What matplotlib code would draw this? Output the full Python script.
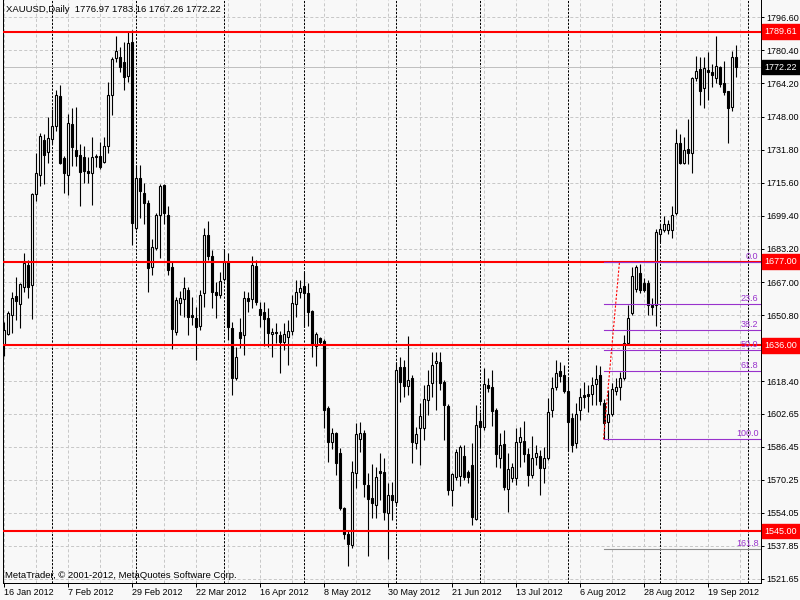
import matplotlib.pyplot as plt
from matplotlib.patches import Rectangle

plt.rcParams['font.family'] = ['Liberation Sans', 'DejaVu Sans']

# XAUUSD daily bars, 16 Jan 2012 .. 28 Sep 2012
opens = [
    1636.4, 1641.7, 1651.0, 1660.4, 1656.4, 1664.8, 1675.5, 1665.7, 1710.3, 1719.2,
    1736.3, 1730.9, 1736.8, 1743.2, 1758.3, 1727.5, 1719.2, 1744.6, 1731.4, 1729.0,
    1728.0, 1721.6, 1720.6, 1728.0, 1728.5, 1726.0, 1733.4, 1758.8, 1776.5, 1777.0,
    1774.5, 1767.7, 1784.3, 1693.7, 1717.7, 1710.8, 1705.9, 1674.6, 1683.9, 1699.6,
    1714.3, 1700.0, 1674.6, 1642.7, 1656.9, 1658.9, 1663.3, 1651.0, 1649.6, 1645.6,
    1661.8, 1689.8, 1679.9, 1662.3, 1660.8, 1668.7, 1677.0, 1644.7, 1620.2, 1642.7,
    1641.2, 1659.4, 1658.9, 1675.0, 1654.0, 1652.5, 1649.6, 1641.7, 1642.7, 1641.2,
    1637.8, 1640.3, 1643.2, 1656.4, 1662.3, 1665.3, 1661.8, 1653.0, 1635.9, 1639.8,
    1638.3, 1605.5, 1588.8, 1593.2, 1583.4, 1556.4, 1543.7, 1538.3, 1573.6, 1590.3,
    1593.2, 1567.7, 1561.4, 1557.9, 1574.6, 1574.1, 1554.0, 1562.8, 1559.4, 1625.6,
    1625.6, 1616.3, 1620.2, 1588.3, 1595.7, 1595.7, 1609.4, 1617.7, 1627.5, 1628.0,
    1618.2, 1606.4, 1565.3, 1571.6, 1572.1, 1581.9, 1574.1, 1577.5, 1551.1, 1599.1,
    1596.2, 1616.7, 1615.8, 1604.5, 1580.9, 1587.8, 1565.8, 1571.1, 1571.1, 1588.8,
    1589.3, 1582.9, 1572.6, 1581.4, 1581.9, 1576.0, 1580.9, 1604.5, 1615.8, 1623.6,
    1621.6, 1613.8, 1600.6, 1588.3, 1604.5, 1611.8, 1612.3, 1612.3, 1617.2, 1621.6,
    1607.9, 1598.6, 1602.5, 1613.8, 1615.8, 1620.2, 1637.3, 1652.0, 1663.8, 1671.6,
    1666.7, 1666.7, 1655.9, 1655.9, 1690.3, 1692.7, 1692.7, 1692.7, 1701.0, 1735.3,
    1725.5, 1731.9, 1730.4, 1766.7, 1771.1, 1761.8, 1770.6, 1769.6, 1766.7, 1772.1,
    1764.3, 1760.3, 1752.5, 1776.97,
]
highs = [
    1647.6, 1653.0, 1662.3, 1669.7, 1666.7, 1681.4, 1678.0, 1710.8, 1730.4, 1740.2,
    1739.7, 1747.6, 1751.5, 1760.8, 1763.3, 1728.5, 1749.5, 1752.0, 1752.5, 1734.4,
    1733.4, 1728.0, 1737.8, 1729.5, 1735.8, 1737.8, 1764.7, 1777.0, 1787.3, 1781.9,
    1784.3, 1789.7, 1790.2, 1724.1, 1724.1, 1715.7, 1707.4, 1688.3, 1701.0, 1714.8,
    1714.8, 1704.0, 1677.0, 1659.9, 1662.8, 1669.7, 1664.8, 1659.9, 1655.0, 1663.3,
    1693.7, 1697.1, 1682.9, 1667.2, 1672.1, 1683.4, 1681.4, 1647.6, 1635.4, 1649.6,
    1662.8, 1662.3, 1679.9, 1678.0, 1657.4, 1657.4, 1654.5, 1644.7, 1647.1, 1643.2,
    1647.1, 1648.6, 1660.8, 1668.2, 1668.2, 1672.1, 1666.7, 1653.5, 1642.7, 1640.3,
    1639.3, 1606.4, 1595.7, 1593.7, 1585.9, 1556.9, 1545.7, 1579.5, 1598.1, 1598.6,
    1594.7, 1573.6, 1578.0, 1576.5, 1583.4, 1581.0, 1568.7, 1569.2, 1628.0, 1630.5,
    1629.0, 1640.8, 1621.6, 1596.2, 1607.9, 1616.7, 1624.1, 1632.9, 1632.9, 1632.9,
    1619.2, 1607.4, 1573.6, 1585.4, 1587.3, 1587.3, 1575.1, 1588.3, 1606.9, 1603.5,
    1625.1, 1620.2, 1624.1, 1605.5, 1593.2, 1594.7, 1583.4, 1578.5, 1595.7, 1596.2,
    1599.1, 1585.9, 1591.7, 1587.3, 1584.9, 1586.3, 1610.4, 1620.6, 1629.0, 1628.0,
    1626.5, 1620.6, 1603.0, 1607.9, 1615.3, 1618.2, 1616.7, 1620.6, 1626.5, 1626.0,
    1609.9, 1614.3, 1617.7, 1620.2, 1623.1, 1641.2, 1655.9, 1674.6, 1675.5, 1676.0,
    1669.2, 1668.2, 1659.4, 1693.2, 1695.2, 1699.1, 1697.6, 1704.0, 1741.7, 1739.3,
    1737.8, 1746.6, 1767.2, 1777.5, 1777.0, 1777.0, 1779.4, 1773.6, 1787.3, 1772.6,
    1775.0, 1760.3, 1779.9, 1783.16,
]
lows = [
    1631.0, 1641.2, 1642.2, 1648.6, 1644.7, 1662.3, 1659.4, 1649.1, 1706.9, 1713.8,
    1715.2, 1725.5, 1734.4, 1740.7, 1724.6, 1710.8, 1709.4, 1723.6, 1723.6, 1704.0,
    1715.7, 1715.7, 1704.9, 1723.1, 1722.1, 1725.5, 1730.4, 1749.0, 1774.5, 1769.6,
    1760.8, 1764.7, 1685.3, 1692.7, 1698.6, 1695.2, 1662.3, 1670.6, 1682.9, 1679.0,
    1695.2, 1670.6, 1634.4, 1641.2, 1651.0, 1650.0, 1641.2, 1646.1, 1629.0, 1643.7,
    1655.0, 1678.0, 1654.5, 1649.6, 1659.4, 1667.7, 1638.8, 1611.8, 1619.2, 1634.9,
    1631.4, 1652.5, 1654.5, 1655.9, 1645.2, 1635.8, 1635.4, 1630.5, 1637.3, 1622.6,
    1633.9, 1626.5, 1641.2, 1650.0, 1659.4, 1645.2, 1645.6, 1630.5, 1626.0, 1636.4,
    1595.7, 1579.0, 1585.4, 1572.6, 1555.5, 1541.3, 1528.0, 1536.8, 1566.3, 1583.9,
    1561.8, 1532.9, 1551.6, 1551.6, 1560.4, 1550.6, 1531.5, 1550.6, 1557.9, 1608.4,
    1610.9, 1611.8, 1578.5, 1585.4, 1577.5, 1589.8, 1602.0, 1610.9, 1604.5, 1614.3,
    1589.8, 1562.8, 1557.4, 1570.2, 1567.2, 1570.2, 1568.7, 1548.1, 1550.6, 1585.9,
    1594.7, 1613.3, 1596.6, 1576.5, 1576.0, 1565.3, 1554.5, 1569.2, 1567.7, 1576.5,
    1579.0, 1567.2, 1571.1, 1577.5, 1562.8, 1568.7, 1580.0, 1601.0, 1614.3, 1618.2,
    1612.8, 1584.4, 1583.9, 1585.9, 1599.6, 1605.5, 1603.5, 1606.9, 1606.9, 1606.9,
    1590.3, 1589.8, 1601.5, 1611.8, 1609.4, 1619.2, 1636.4, 1651.0, 1662.3, 1661.8,
    1662.3, 1651.0, 1651.0, 1645.6, 1686.8, 1691.7, 1690.3, 1688.8, 1700.0, 1724.6,
    1724.6, 1724.6, 1720.6, 1765.2, 1753.9, 1752.0, 1755.9, 1762.3, 1764.3, 1762.3,
    1758.8, 1735.3, 1750.5, 1767.26,
]
closes = [
    1643.7, 1652.0, 1659.4, 1657.9, 1666.2, 1676.5, 1664.8, 1710.3, 1720.2, 1738.3,
    1729.4, 1737.3, 1743.2, 1758.8, 1725.5, 1720.2, 1745.1, 1732.9, 1728.5, 1721.1,
    1721.6, 1720.2, 1728.0, 1728.5, 1723.1, 1733.4, 1758.8, 1776.0, 1779.9, 1772.1,
    1767.2, 1783.8, 1696.1, 1717.7, 1711.8, 1705.9, 1674.1, 1684.4, 1699.6, 1713.8,
    1700.6, 1673.1, 1644.2, 1658.4, 1659.4, 1664.3, 1650.0, 1650.0, 1645.2, 1660.8,
    1689.8, 1679.9, 1662.3, 1660.8, 1667.7, 1677.0, 1645.2, 1620.2, 1630.5, 1639.8,
    1659.4, 1657.9, 1675.5, 1657.4, 1651.0, 1649.1, 1642.2, 1642.7, 1642.2, 1637.8,
    1641.7, 1643.2, 1656.9, 1662.3, 1664.3, 1661.8, 1652.5, 1636.4, 1641.7, 1637.8,
    1604.5, 1588.8, 1593.2, 1578.5, 1556.4, 1543.7, 1538.8, 1574.1, 1592.7, 1593.2,
    1568.2, 1560.9, 1558.9, 1571.6, 1573.6, 1554.5, 1562.8, 1560.4, 1624.1, 1618.2,
    1616.3, 1619.2, 1588.8, 1592.7, 1601.5, 1609.9, 1616.7, 1626.5, 1628.5, 1617.7,
    1606.9, 1565.3, 1573.1, 1583.9, 1586.3, 1571.6, 1571.6, 1552.0, 1597.1, 1596.2,
    1617.2, 1615.3, 1604.0, 1582.9, 1587.3, 1566.7, 1575.6, 1576.5, 1588.8, 1591.3,
    1582.9, 1572.6, 1580.9, 1583.4, 1576.0, 1580.9, 1603.5, 1615.3, 1622.6, 1621.1,
    1613.8, 1598.6, 1587.3, 1602.5, 1610.9, 1610.9, 1611.3, 1616.7, 1619.7, 1608.9,
    1598.1, 1602.5, 1614.8, 1615.8, 1620.2, 1637.3, 1649.6, 1670.2, 1674.6, 1663.3,
    1663.3, 1655.9, 1655.0, 1691.7, 1693.2, 1695.2, 1695.2, 1700.0, 1735.3, 1725.5,
    1731.4, 1730.4, 1766.7, 1770.1, 1760.3, 1771.6, 1769.6, 1768.2, 1772.6, 1763.8,
    1759.8, 1752.0, 1777.0, 1772.22,
]

symbol = 'XAUUSD,Daily'
date_labels = ['16 Jan 2012', '7 Feb 2012', '29 Feb 2012', '22 Mar 2012',
               '16 Apr 2012', '8 May 2012', '30 May 2012', '21 Jun 2012',
               '13 Jul 2012', '6 Aug 2012', '28 Aug 2012', '19 Sep 2012']
month_starts = [12, 33, 55, 75, 98, 119, 141, 164, 186]   # bar index of period separators
price_ticks = [1796.60, 1780.40, 1764.20, 1748.00, 1731.80, 1715.60, 1699.40,
               1683.20, 1667.00, 1650.80, 1634.60, 1618.40, 1602.65, 1586.45,
               1570.25, 1554.05, 1537.85, 1521.65]
levels = [1789.61, 1677.00, 1636.00, 1545.00]
fib_ratios = [0.0, 23.6, 38.2, 50.0, 61.8, 100.0, 161.8]
fib_low, fib_high = 1590.0, 1677.0
fib_low_bar, fib_high_bar = 150, 154

n = len(opens)
last_price = closes[-1]

W, H = 800, 600
bg = '#f8f8f8'
fig = plt.figure(figsize=(8, 6), dpi=100, facecolor=bg)
ax = fig.add_axes([2.5 / W, 17.5 / H, 758 / W, 582.5 / H], facecolor=bg)
ax.set_xlim(-0.25, 189.25)
ax.set_ylim(1519.93, 1805.07)

# grid
for k in range(0, 190, 8):
    ax.axvline(k, color='#c8c8c8', lw=0.72, ls=(0, (3, 2.2)), zorder=1)
for p in price_ticks:
    ax.axhline(p, color='#c8c8c8', lw=0.72, ls=(0, (3, 2.2)), zorder=1)
for s in month_starts:
    ax.axvline(s, color='black', lw=0.72, ls=(0, (2.2, 1.45)), zorder=1.2)

ax.axhline(last_price, color='#c0c0c0', lw=0.72, zorder=1.5)

# candles
for i, (o, h, l, c) in enumerate(zip(opens, highs, lows, closes)):
    ax.vlines(i, l, h, color='black', lw=0.8, zorder=2)
    bull = c >= o
    ax.add_patch(Rectangle((i - 0.25, min(o, c)), 0.5, abs(c - o),
                           facecolor='white' if bull else 'black',
                           edgecolor='black', lw=0.8, zorder=2.1))

# horizontal levels
for p in levels:
    ax.axhline(p, color='red', lw=1.5, zorder=3)

# fibonacci
fib_color = '#9932cc'
ax.plot([fib_low_bar, fib_high_bar], [fib_low, fib_high], color='red', lw=0.8,
        ls=(0, (2, 1.5)), zorder=3.1)
for r in fib_ratios:
    p = fib_high - r / 100 * (fib_high - fib_low)
    line_color = '#8c8c8c' if r > 100 else fib_color
    ax.plot([fib_low_bar, 189.25], [p, p], color=line_color, lw=0.8, zorder=3)
    ax.annotate(f'{r:.1f}', xy=(1, p), xycoords=('axes fraction', 'data'),
                xytext=(-2, 1), textcoords='offset pixels', ha='right', va='bottom',
                color=fib_color, fontsize=6.5, zorder=4)

# axes styling
for side in ['left', 'right', 'bottom']:
    ax.spines[side].set_color('black')
    ax.spines[side].set_linewidth(0.72)
ax.spines['top'].set_visible(False)

ax.yaxis.tick_right()
ax.set_yticks(price_ticks)
ax.set_yticklabels(['' if abs(p - 1634.60) < 0.01 else f'{p:.2f}' for p in price_ticks])
ax.tick_params(axis='y', direction='out', length=2.2, width=0.72, pad=2, labelsize=6.5)
ax.set_xticks(range(0, n, 16))
ax.set_xticklabels(date_labels, ha='left')
ax.tick_params(axis='x', direction='out', length=3, width=0.72, pad=1.2, labelsize=6.5)

for p in levels:
    ax.annotate(f'{p:.2f}', xy=(1, p), xycoords=('axes fraction', 'data'),
                xytext=(4, 0), textcoords='offset pixels', ha='left', va='center',
                color='white', fontsize=6.5, annotation_clip=False, zorder=6,
                bbox=dict(boxstyle='square,pad=0.3', fc='red', ec='red'))
ax.annotate(f'{last_price:.2f}', xy=(1, last_price), xycoords=('axes fraction', 'data'),
            xytext=(4, 0), textcoords='offset pixels', ha='left', va='center',
            color='white', fontsize=6.5, annotation_clip=False, zorder=6,
            bbox=dict(boxstyle='square,pad=0.3', fc='black', ec='black'))

header = f'{symbol}  {opens[-1]:.2f} {highs[-1]:.2f} {lows[-1]:.2f} {closes[-1]:.2f}'
fig.text(6 / W, 1 - 10 / H, header, ha='left', va='center', fontsize=6.8)
fig.text(5 / W, 1 - 575 / H, 'MetaTrader, \u00a9 2001-2012, MetaQuotes Software Corp.',
         ha='left', va='center', fontsize=6.8)

fig.savefig('out.png', dpi=100, facecolor=bg)
